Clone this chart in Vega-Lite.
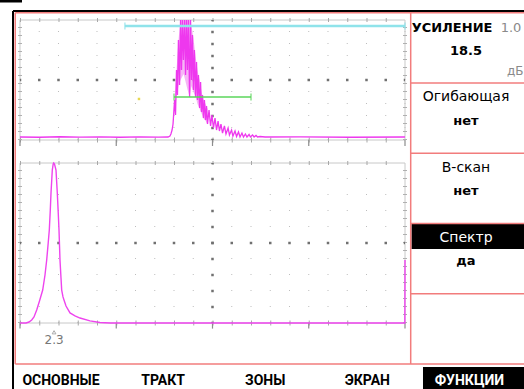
{
  "$schema": "https://vega.github.io/schema/vega-lite/v6.json",
  "width": 524,
  "height": 389,
  "padding": 0,
  "autosize": "none",
  "background": "white",
  "config": {"view": {"stroke": null}, "text": {"font": "DejaVu Sans"}},
  "data": {"values": [{}]},
  "datasets": {
    "gridT": [{"t":0},{"t":1},{"t":2},{"t":3},{"t":4},{"t":5},{"t":6},{"t":7},{"t":8},{"t":9},{"t":10},{"t":11},{"t":12},{"t":13},{"t":14},{"t":15},{"t":16},{"t":17},{"t":18},{"t":19},{"t":20}],
    "gridF": [{"f":0},{"f":1.3},{"f":2.6},{"f":3.9},{"f":5.2},{"f":6.5},{"f":7.8},{"f":9.1},{"f":10.4},{"f":11.7},{"f":13},{"f":14.3},{"f":15.6},{"f":16.9},{"f":18.2},{"f":19.5},{"f":20.8},{"f":22.1},{"f":23.4},{"f":24.7},{"f":26}],
    "ascan": [{"t":0,"a":2.5},{"t":1.0,"a":2.3},{"t":2.08,"a":2.7},{"t":3.1,"a":2.4},{"t":4.16,"a":2.6},{"t":5.2,"a":2.3},{"t":6.23,"a":2.6},{"t":7.2,"a":2.4},{"t":7.69,"a":2.5},{"t":7.79,"a":3.3},{"t":7.84,"a":5},{"t":7.9,"a":8.3},{"t":7.95,"a":13.3},{"t":7.97,"a":18.3},{"t":8.03,"a":33.3},{"t":8.08,"a":20.8},{"t":8.13,"a":58.3},{"t":8.18,"a":37.5},{"t":8.23,"a":83.3},{"t":8.29,"a":45.8},{"t":8.34,"a":100},{"t":8.39,"a":58.3},{"t":8.44,"a":100},{"t":8.49,"a":66.7},{"t":8.55,"a":100},{"t":8.6,"a":54.2},{"t":8.65,"a":100},{"t":8.7,"a":58.3},{"t":8.75,"a":100},{"t":8.81,"a":35.8},{"t":8.86,"a":100},{"t":8.91,"a":50},{"t":8.96,"a":87.5},{"t":9.01,"a":41.7},{"t":9.06,"a":75},{"t":9.12,"a":35.8},{"t":9.17,"a":65},{"t":9.22,"a":33.3},{"t":9.27,"a":54.2},{"t":9.33,"a":26.7},{"t":9.38,"a":48.3},{"t":9.43,"a":23.3},{"t":9.48,"a":37.5},{"t":9.53,"a":18.3},{"t":9.58,"a":33.3},{"t":9.64,"a":16.7},{"t":9.69,"a":28.3},{"t":9.74,"a":13.3},{"t":9.82,"a":25},{"t":9.9,"a":11.7},{"t":9.97,"a":20.8},{"t":10.05,"a":10},{"t":10.13,"a":18.3},{"t":10.21,"a":8.3},{"t":10.29,"a":15.8},{"t":10.36,"a":7.5},{"t":10.44,"a":13.3},{"t":10.52,"a":5.8},{"t":10.62,"a":11.7},{"t":10.7,"a":5},{"t":10.81,"a":10},{"t":10.88,"a":4.2},{"t":10.99,"a":8.3},{"t":11.06,"a":3.3},{"t":11.17,"a":7.5},{"t":11.25,"a":2.9},{"t":11.35,"a":6.7},{"t":11.43,"a":2.5},{"t":11.53,"a":5.8},{"t":11.61,"a":2.5},{"t":11.71,"a":5},{"t":11.79,"a":2.5},{"t":11.9,"a":4.6},{"t":11.97,"a":2.5},{"t":12.08,"a":4.2},{"t":12.16,"a":2.5},{"t":12.26,"a":3.8},{"t":12.34,"a":2.5},{"t":12.47,"a":2.9},{"t":12.73,"a":2.5},{"t":14.55,"a":2.6},{"t":17.14,"a":2.3},{"t":20,"a":2.5}],
    "fill": [{"t":8.03,"hi":33,"lo":20},{"t":8.13,"hi":58,"lo":36},{"t":8.23,"hi":83,"lo":45},{"t":8.34,"hi":100,"lo":50},{"t":8.5,"hi":100,"lo":55},{"t":8.7,"hi":100,"lo":42},{"t":8.81,"hi":100,"lo":36},{"t":8.91,"hi":95,"lo":45},{"t":9.01,"hi":85,"lo":40},{"t":9.12,"hi":70,"lo":36},{"t":9.22,"hi":58,"lo":30},{"t":9.33,"hi":50,"lo":26},{"t":9.43,"hi":40,"lo":22},{"t":9.53,"hi":34,"lo":18},{"t":9.64,"hi":30,"lo":16},{"t":9.74,"hi":26,"lo":13}],
    "gates": [{"gate":"A","start":5.45,"end":20,"level":95},{"gate":"B","start":8.0,"end":12.0,"level":35.8}],
    "marker": [{"t":6.18,"a":34.2}],
    "spectrum": [{"f":0,"s":0},{"f":0.405,"s":0},{"f":0.608,"s":0.6},{"f":0.79,"s":1.9},{"f":0.945,"s":3.8},{"f":1.128,"s":8.1},{"f":1.317,"s":13.8},{"f":1.533,"s":20.6},{"f":1.688,"s":30},{"f":1.803,"s":39.4},{"f":1.904,"s":50},{"f":1.979,"s":58.1},{"f":2.046,"s":70.6},{"f":2.094,"s":81.3},{"f":2.181,"s":95.6},{"f":2.242,"s":99.4},{"f":2.276,"s":100},{"f":2.33,"s":99.4},{"f":2.431,"s":95.6},{"f":2.519,"s":81.3},{"f":2.58,"s":69.4},{"f":2.634,"s":58.1},{"f":2.701,"s":39.4},{"f":2.769,"s":28.1},{"f":2.816,"s":20.6},{"f":2.904,"s":16.3},{"f":2.971,"s":14.4},{"f":3.107,"s":10.6},{"f":3.377,"s":6.3},{"f":3.714,"s":4.4},{"f":4.052,"s":3.1},{"f":4.727,"s":1.3},{"f":5.403,"s":0.3},{"f":6.078,"s":0},{"f":25.99,"s":0},{"f":26,"s":39.4}],
    "peak": [{"f":2.3,"label":"2.3"}],
    "panel": [
      {"cell":0,"title":"УСИЛЕНИЕ","value":"18.5","step":"1.0","unit":"дБ"},
      {"cell":1,"title":"Огибающая","value":"нет"},
      {"cell":2,"title":"В-скан","value":"нет"},
      {"cell":3,"title":"Спектр","value":"да"},
      {"cell":4}
    ],
    "menu": [{"slot":0,"menu":"ОСНОВНЫЕ"},{"slot":1,"menu":"ТРАКТ"},{"slot":2,"menu":"ЗОНЫ"},{"slot":3,"menu":"ЭКРАН"},{"slot":4,"menu":"ФУНКЦИИ"}]
  },
  "resolve": {"scale": {"x": "independent", "y": "independent", "color": "independent"}},
  "layer": [
    {
      "layer": [
        {
          "data": {"name": "gridT"},
          "mark": {"type": "rule", "color": "#bdbdbd", "strokeWidth": 1, "strokeDash": [1, 11]},
          "encoding": {
            "x": {"field": "t", "type": "quantitative", "scale": {"domain": [-1.03896, 26.18182], "nice": false, "zero": false}, "axis": null},
            "y": {"datum": 0, "type": "quantitative", "scale": {"domain": [-207.5, 116.667], "nice": false, "zero": false}, "axis": null},
            "y2": {"datum": 100}
          }
        },
        {
          "mark": {"type": "rule", "color": "#c8c8c8", "strokeWidth": 1},
          "encoding": {"x": {"datum": 0}, "x2": {"datum": 20}, "y": {"datum": 100}}
        },
        {
          "mark": {"type": "rule", "color": "#c8c8c8", "strokeWidth": 1},
          "encoding": {"x": {"datum": 0}, "x2": {"datum": 20}, "y": {"datum": 0}}
        },
        {
          "mark": {"type": "rule", "color": "#c8c8c8", "strokeWidth": 1},
          "encoding": {"x": {"datum": 0}, "y": {"datum": 0}, "y2": {"datum": 100}}
        },
        {
          "mark": {"type": "rule", "color": "#c8c8c8", "strokeWidth": 1},
          "encoding": {"x": {"datum": 20}, "y": {"datum": 0}, "y2": {"datum": 100}}
        },
        {
          "mark": {"type": "rule", "color": "#a8a8a8", "strokeWidth": 4, "strokeDash": [1, 18.25]},
          "encoding": {"x": {"datum": 0}, "x2": {"datum": 20}, "y": {"datum": 100}}
        },
        {
          "mark": {"type": "rule", "color": "#a8a8a8", "strokeWidth": 5, "strokeDash": [1, 18.25]},
          "encoding": {"x": {"datum": 0}, "x2": {"datum": 20}, "y": {"datum": 0}}
        },
        {
          "mark": {"type": "rule", "color": "#b0b0b0", "strokeWidth": 4, "strokeDash": [1, 7]},
          "encoding": {"x": {"datum": 0}, "y": {"datum": 0}, "y2": {"datum": 100}}
        },
        {
          "mark": {"type": "rule", "color": "#b0b0b0", "strokeWidth": 4, "strokeDash": [1, 7]},
          "encoding": {"x": {"datum": 20}, "y": {"datum": 0}, "y2": {"datum": 100}}
        },
        {
          "data": {"name": "gridT"},
          "transform": [{"filter": "datum.t % 5 === 0"}],
          "mark": {"type": "rule", "color": "#8c8c8c", "strokeWidth": 1.2},
          "encoding": {"x": {"field": "t", "type": "quantitative"}, "y": {"datum": 0}, "y2": {"datum": -5}}
        },
        {
          "mark": {"type": "rule", "color": "#707070", "strokeWidth": 2.5, "strokeDash": [2.5, 16.75], "strokeDashOffset": 1.25},
          "encoding": {"x": {"datum": 0}, "x2": {"datum": 20}, "y": {"datum": 50}}
        },
        {
          "mark": {"type": "rule", "color": "#707070", "strokeWidth": 2.5, "strokeDash": [2.5, 9.5], "strokeDashOffset": 1.25},
          "encoding": {"x": {"datum": 10}, "y": {"datum": 0}, "y2": {"datum": 100}}
        },
        {
          "data": {"name": "fill"},
          "mark": {"type": "area", "color": "#f4a9f4", "opacity": 0.85},
          "encoding": {"x": {"field": "t", "type": "quantitative"}, "y": {"field": "hi", "type": "quantitative"}, "y2": {"field": "lo"}}
        },
        {
          "data": {"name": "ascan"},
          "mark": {"type": "line", "color": "#ee38ee", "strokeWidth": 1.3},
          "encoding": {"x": {"field": "t", "type": "quantitative"}, "y": {"field": "a", "type": "quantitative"}}
        },
        {
          "data": {"name": "gates"},
          "mark": {"type": "rule"},
          "encoding": {
            "x": {"field": "start", "type": "quantitative"},
            "x2": {"field": "end"},
            "y": {"field": "level", "type": "quantitative"},
            "color": {"field": "gate", "type": "nominal", "scale": {"domain": ["A", "B"], "range": ["#8fe3ea", "#5bd65b"]}, "legend": null},
            "strokeWidth": {"condition": {"test": "datum.gate === 'A'", "value": 2.5}, "value": 1.5}
          }
        },
        {
          "data": {"name": "gates"},
          "mark": {"type": "tick", "orient": "vertical", "size": 7, "thickness": 1.5},
          "encoding": {
            "x": {"field": "start", "type": "quantitative"},
            "y": {"field": "level", "type": "quantitative"},
            "color": {"field": "gate", "type": "nominal", "scale": {"domain": ["A", "B"], "range": ["#8fe3ea", "#5bd65b"]}, "legend": null}
          }
        },
        {
          "data": {"name": "gates"},
          "mark": {"type": "tick", "orient": "vertical", "size": 7, "thickness": 1.5},
          "encoding": {
            "x": {"field": "end", "type": "quantitative"},
            "y": {"field": "level", "type": "quantitative"},
            "color": {"field": "gate", "type": "nominal", "scale": {"domain": ["A", "B"], "range": ["#8fe3ea", "#5bd65b"]}, "legend": null}
          }
        },
        {
          "data": {"name": "marker"},
          "mark": {"type": "square", "color": "#e8d850", "size": 6, "opacity": 1},
          "encoding": {"x": {"field": "t", "type": "quantitative"}, "y": {"field": "a", "type": "quantitative"}}
        }
      ]
    },
    {
      "layer": [
        {
          "data": {"name": "gridF"},
          "mark": {"type": "rule", "color": "#bdbdbd", "strokeWidth": 1, "strokeDash": [1, 15]},
          "encoding": {
            "x": {"field": "f", "type": "quantitative", "scale": {"domain": [-1.35065, 34.03636], "nice": false, "zero": false}, "axis": null},
            "y": {"datum": 0, "type": "quantitative", "scale": {"domain": [-41.25, 201.875], "nice": false, "zero": false}, "axis": null},
            "y2": {"datum": 100}
          }
        },
        {
          "mark": {"type": "rule", "color": "#c8c8c8", "strokeWidth": 1},
          "encoding": {"x": {"datum": 0}, "x2": {"datum": 26}, "y": {"datum": 100}}
        },
        {
          "mark": {"type": "rule", "color": "#c8c8c8", "strokeWidth": 1},
          "encoding": {"x": {"datum": 0}, "x2": {"datum": 26}, "y": {"datum": 0}}
        },
        {
          "mark": {"type": "rule", "color": "#c8c8c8", "strokeWidth": 1},
          "encoding": {"x": {"datum": 0}, "y": {"datum": 0}, "y2": {"datum": 100}}
        },
        {
          "mark": {"type": "rule", "color": "#c8c8c8", "strokeWidth": 1},
          "encoding": {"x": {"datum": 26}, "y": {"datum": 0}, "y2": {"datum": 100}}
        },
        {
          "mark": {"type": "rule", "color": "#a8a8a8", "strokeWidth": 4, "strokeDash": [1, 18.25]},
          "encoding": {"x": {"datum": 0}, "x2": {"datum": 26}, "y": {"datum": 100}}
        },
        {
          "mark": {"type": "rule", "color": "#a8a8a8", "strokeWidth": 5, "strokeDash": [1, 18.25]},
          "encoding": {"x": {"datum": 0}, "x2": {"datum": 26}, "y": {"datum": 0}}
        },
        {
          "mark": {"type": "rule", "color": "#b0b0b0", "strokeWidth": 4, "strokeDash": [1, 7]},
          "encoding": {"x": {"datum": 0}, "y": {"datum": 0}, "y2": {"datum": 100}}
        },
        {
          "mark": {"type": "rule", "color": "#b0b0b0", "strokeWidth": 4, "strokeDash": [1, 7]},
          "encoding": {"x": {"datum": 26}, "y": {"datum": 0}, "y2": {"datum": 100}}
        },
        {
          "data": {"name": "gridF"},
          "transform": [{"filter": "indexof([0, 6.5, 13, 19.5, 26], datum.f) >= 0"}],
          "mark": {"type": "rule", "color": "#8c8c8c", "strokeWidth": 1.2},
          "encoding": {"x": {"field": "f", "type": "quantitative"}, "y": {"datum": 0}, "y2": {"datum": -3.5}}
        },
        {
          "mark": {"type": "rule", "color": "#707070", "strokeWidth": 2.5, "strokeDash": [2.5, 16.75], "strokeDashOffset": 1.25},
          "encoding": {"x": {"datum": 0}, "x2": {"datum": 26}, "y": {"datum": 50}}
        },
        {
          "mark": {"type": "rule", "color": "#707070", "strokeWidth": 2.5, "strokeDash": [2.5, 13.5], "strokeDashOffset": 1.25},
          "encoding": {"x": {"datum": 13}, "y": {"datum": 0}, "y2": {"datum": 100}}
        },
        {
          "data": {"name": "spectrum"},
          "mark": {"type": "line", "color": "#ee44ee", "strokeWidth": 1.4},
          "encoding": {"x": {"field": "f", "type": "quantitative"}, "y": {"field": "s", "type": "quantitative"}}
        },
        {
          "data": {"name": "peak"},
          "mark": {"type": "point", "shape": "triangle-up", "filled": false, "size": 14, "color": "#8a8a8a", "strokeWidth": 1},
          "encoding": {"x": {"field": "f", "type": "quantitative"}, "y": {"datum": -5.8}}
        },
        {
          "data": {"name": "peak"},
          "mark": {"type": "text", "color": "#777777", "fontSize": 12, "baseline": "middle", "align": "center", "dy": 17},
          "encoding": {"x": {"field": "f", "type": "quantitative"}, "y": {"datum": 0}, "text": {"field": "label"}}
        }
      ]
    },
    {
      "layer": [
        {
          "mark": {"type": "rect", "color": "black"},
          "encoding": {
            "x": {"datum": 3.4329, "type": "quantitative", "scale": {"domain": [-0.5975, 4.5348], "nice": false, "zero": false}, "axis": null},
            "x2": {"datum": 4.5348},
            "y": {"datum": 3, "type": "quantitative", "scale": {"domain": [-0.18149, 5.35587], "nice": false, "zero": false, "reverse": true}, "axis": null},
            "y2": {"datum": 3.363}
          }
        },
        {
          "mark": {"type": "rect", "color": "black"},
          "encoding": {"x": {"datum": 3.5455}, "x2": {"datum": 4.5348}, "y": {"datum": 5.0427}, "y2": {"datum": 5.35587}}
        },
        {
          "mark": {"type": "rect", "color": "black"},
          "encoding": {"x": {"datum": -0.5975}, "x2": {"datum": -0.382}, "y": {"datum": -0.18149}, "y2": {"datum": -0.1459}}
        },
        {
          "mark": {"type": "rule", "color": "#f27c7c", "strokeWidth": 1.5},
          "encoding": {"x": {"datum": -0.4481}, "x2": {"datum": 4.5348}, "y": {"datum": 0}}
        },
        {
          "mark": {"type": "rule", "color": "#f27c7c", "strokeWidth": 1.5},
          "encoding": {"x": {"datum": -0.4481}, "x2": {"datum": 4.5348}, "y": {"datum": 5}}
        },
        {
          "mark": {"type": "rule", "color": "#f27c7c", "strokeWidth": 1.5},
          "encoding": {"x": {"datum": -0.4481}, "y": {"datum": 0}, "y2": {"datum": 5}}
        },
        {
          "mark": {"type": "rule", "color": "#f27c7c", "strokeWidth": 1.5},
          "encoding": {"x": {"datum": 3.4251}, "y": {"datum": 0}, "y2": {"datum": 5}}
        },
        {
          "data": {"name": "panel"},
          "transform": [{"filter": "datum.cell >= 1"}],
          "mark": {"type": "rule", "color": "#f27c7c", "strokeWidth": 1.5},
          "encoding": {"x": {"datum": 3.4251}, "x2": {"datum": 4.5348}, "y": {"field": "cell", "type": "quantitative"}}
        },
        {
          "mark": {"type": "rule", "color": "black", "strokeWidth": 2},
          "encoding": {"x": {"datum": -0.4701}, "x2": {"datum": 4.5348}, "y": {"datum": -0.0249}}
        },
        {
          "mark": {"type": "rule", "color": "black", "strokeWidth": 2},
          "encoding": {"x": {"datum": -0.4701}, "y": {"datum": -0.0249}, "y2": {"datum": 5.35587}}
        },
        {
          "data": {"name": "panel"},
          "transform": [{"filter": "datum.cell === 0"}],
          "mark": {"type": "text", "fontSize": 13, "fontWeight": "bold", "color": "black", "baseline": "middle", "align": "center", "dy": 15},
          "encoding": {"x": {"datum": 3.8296}, "y": {"field": "cell", "type": "quantitative"}, "text": {"field": "title"}}
        },
        {
          "data": {"name": "panel"},
          "transform": [{"filter": "datum.cell === 0"}],
          "mark": {"type": "text", "fontSize": 13, "color": "#8a8a8a", "baseline": "middle", "align": "center", "dy": 15},
          "encoding": {"x": {"datum": 4.4074}, "y": {"field": "cell", "type": "quantitative"}, "text": {"field": "step"}}
        },
        {
          "data": {"name": "panel"},
          "transform": [{"filter": "datum.cell === 0"}],
          "mark": {"type": "text", "fontSize": 12, "color": "#8a8a8a", "baseline": "middle", "align": "right", "dy": 58.5},
          "encoding": {"x": {"datum": 4.53}, "y": {"field": "cell", "type": "quantitative"}, "text": {"field": "unit"}}
        },
        {
          "data": {"name": "panel"},
          "transform": [{"filter": "datum.cell >= 1 && datum.cell <= 3"}],
          "mark": {"type": "text", "fontSize": 14, "baseline": "middle", "align": "center", "dy": 14.5},
          "encoding": {
            "x": {"datum": 3.9667},
            "y": {"field": "cell", "type": "quantitative"},
            "text": {"field": "title"},
            "color": {"condition": {"test": "datum.cell === 3", "value": "white"}, "value": "black"}
          }
        },
        {
          "data": {"name": "panel"},
          "transform": [{"filter": "datum.cell <= 3"}],
          "mark": {"type": "text", "fontSize": 13, "fontWeight": "bold", "color": "black", "baseline": "middle", "align": "center", "dy": 38},
          "encoding": {"x": {"datum": 3.9667}, "y": {"field": "cell", "type": "quantitative"}, "text": {"field": "value"}}
        },
        {
          "data": {"name": "menu"},
          "mark": {"type": "text", "font": "Roboto", "fontSize": 14, "fontWeight": "bold", "baseline": "middle", "align": "center"},
          "encoding": {
            "x": {"field": "slot", "type": "quantitative"},
            "y": {"datum": 5.242},
            "text": {"field": "menu"},
            "color": {"condition": {"test": "datum.slot === 4", "value": "white"}, "value": "black"}
          }
        }
      ]
    }
  ]
}
